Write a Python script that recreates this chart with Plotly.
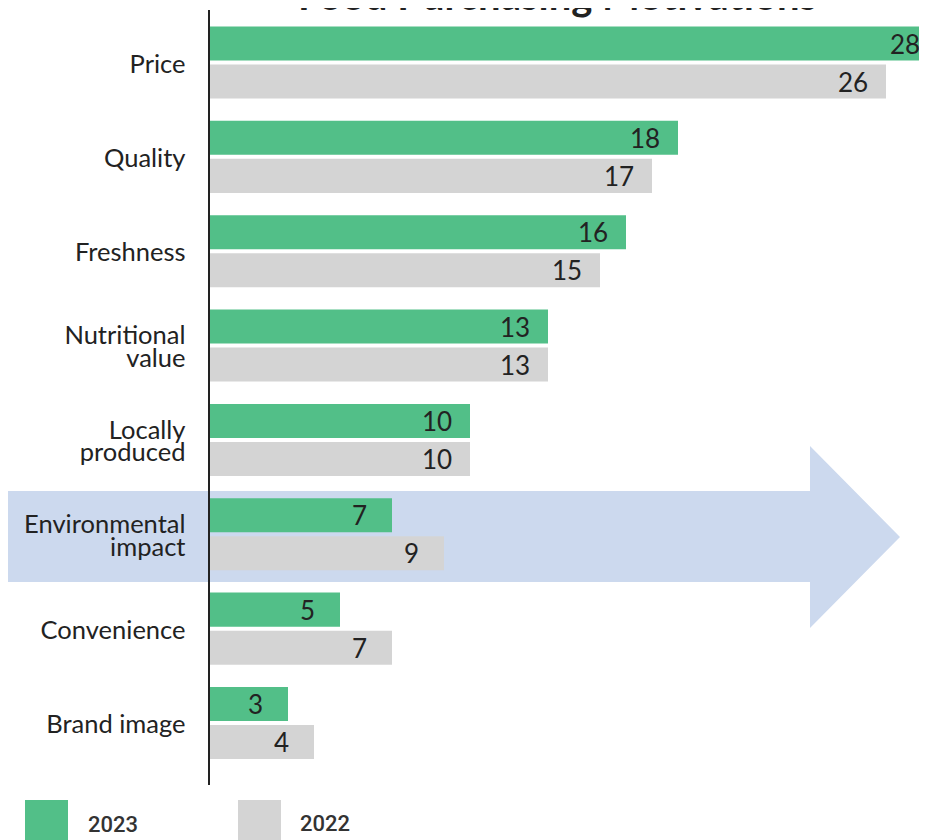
import plotly.graph_objects as go

# ---------------- data ----------------
categories = ["Price", "Quality", "Freshness", "Nutritional value", "Locally produced",
              "Environmental impact", "Convenience", "Brand image"]
tick_labels = ["Price", "Quality", "Freshness", "Nutritional<br>value", "Locally<br>produced",
               "Environmental<br>impact", "Convenience", "Brand image"]
values_2023 = [28, 18, 16, 13, 10, 7, 5, 3]
values_2022 = [26, 17, 15, 13, 10, 9, 7, 4]
series_names = ["2023", "2022"]
title_text = "Food Purchasing Motivations"

# ---------------- styling / layout ----------------
OFF = 8                      # page offset of the figure (body margin)
W, H = 927, 840
AXIS_PX = 210 - OFF          # y-axis line, figure pixels
TOP_PX = 10 - OFF
BOT_PX = 785 - OFF
ML, MR, MT, MB = AXIS_PX, 0, TOP_PX, H - BOT_PX
PLOT_W = W - ML - MR
PLOT_H = H - MT - MB
PX_PER_UNIT = 26.0
CAT_PX = 94.36
GREEN = "#52bf88"
GRAY = "#d4d4d4"
ARROW = "#ccd9ee"
TEXT = "#222222"
FONT = "Lato, 'Open Sans', sans-serif"
LABEL_OFFSET_PX = 33
GROUP_SHIFT_PX = 19

x_max = PLOT_W / PX_PER_UNIT
y_top = -(62.5 - 10) / CAT_PX
y_bottom = (len(categories) - 1) + (785 - 723) / CAT_PX


def px_x(p):
    """page pixel x -> paper coordinate"""
    return (p - OFF - ML) / PLOT_W


def px_y(p):
    """page pixel y -> paper coordinate"""
    return (H - MB - (p - OFF)) / PLOT_H


fig = go.Figure()
fig.add_trace(go.Bar(y=categories, x=values_2023, name=series_names[0], orientation="h",
                     marker=dict(color=GREEN, line=dict(width=0)), hoverinfo="x+name"))
fig.add_trace(go.Bar(y=categories, x=values_2022, name=series_names[1], orientation="h",
                     marker=dict(color=GRAY, line=dict(width=0)), hoverinfo="x+name"))

annotations = []
for vals, shift in ((values_2023, GROUP_SHIFT_PX), (values_2022, -GROUP_SHIFT_PX)):
    for cat, v in zip(categories, vals):
        annotations.append(dict(x=v - LABEL_OFFSET_PX / PX_PER_UNIT, y=cat, xref="x", yref="y",
                                yshift=shift, text=str(v), showarrow=False, xanchor="center",
                                yanchor="middle", font=dict(family=FONT, size=26, color=TEXT)))

# title (partly above the visible page, as in the reference)
annotations.append(dict(x=px_x(557), y=px_y(21), xref="paper", yref="paper",
                        text=f"<b>{title_text}</b>", showarrow=False, xanchor="center",
                        yanchor="bottom", font=dict(family=FONT, size=40, color=TEXT)))

# legend (drawn manually: large squares)
legend_items = [(series_names[0], GREEN, 25, 86, 825), (series_names[1], GRAY, 238, 298, 823)]
shapes = []
for name, col, sq_x, tx_x, ty in legend_items:
    shapes.append(dict(type="rect", xref="paper", yref="paper",
                       x0=px_x(sq_x), x1=px_x(sq_x + 43), y0=px_y(850), y1=px_y(800),
                       fillcolor=col, line=dict(width=0), layer="above"))
    annotations.append(dict(x=px_x(tx_x), y=px_y(ty), xref="paper", yref="paper", text=name,
                            showarrow=False, xanchor="left", yanchor="middle",
                            font=dict(family="Roboto, Arial, sans-serif", size=22,
                                      weight=500, color="#333")))

# highlight arrow behind the highlighted category
pts = [(8, 491), (810, 491), (810, 446), (900, 537), (810, 628), (810, 582), (8, 582)]
path = "M " + " L ".join(f"{px_x(a):.5f},{px_y(b):.5f}" for a, b in pts) + " Z"
shapes.append(dict(type="path", xref="paper", yref="paper", path=path,
                   fillcolor=ARROW, line=dict(width=0), layer="below"))
# light panel at the right edge
shapes.append(dict(type="rect", xref="paper", yref="paper", x0=px_x(922), x1=px_x(940),
                   y0=px_y(636), y1=px_y(275), fillcolor="#e4ebf6",
                   line=dict(color="#bfcde7", width=2), layer="below"))

styled_ticks = [f"<span style='font-size:25.5px'>{t}</span>" for t in tick_labels]

fig.update_layout(
    width=W, height=H,
    margin=dict(l=ML, r=MR, t=MT, b=MB, pad=0),
    paper_bgcolor="white", plot_bgcolor="rgba(0,0,0,0)",
    barmode="group", bargap=0.194, bargroupgap=0.105,
    showlegend=False,
    xaxis=dict(range=[0, x_max], visible=False, showgrid=False, zeroline=False, fixedrange=True),
    yaxis=dict(type="category", categoryorder="array", categoryarray=categories,
               range=[y_bottom, y_top], showgrid=False, zeroline=False,
               showline=True, linecolor=TEXT, linewidth=2,
               ticks="", ticklabelstandoff=19, ticklabelshift=-4,
               tickmode="array", tickvals=categories, ticktext=styled_ticks,
               tickfont=dict(family=FONT, size=17.5, color=TEXT)),
    annotations=annotations, shapes=shapes,
)

fig.write_html("out.html")
